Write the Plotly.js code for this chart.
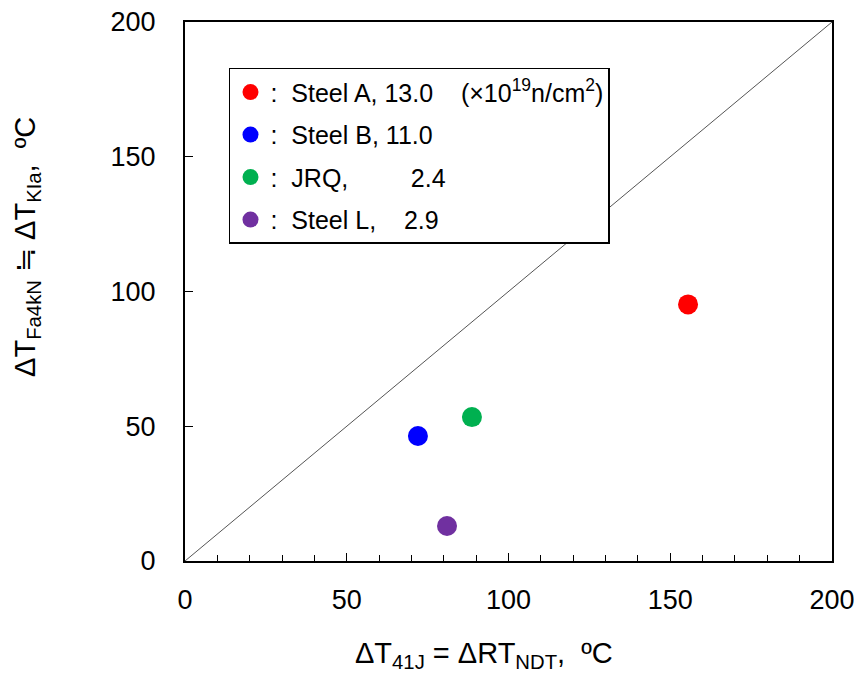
<!DOCTYPE html>
<html>
<head>
<meta charset="utf-8">
<script src="https://cdn.plot.ly/plotly-3.0.1.min.js"></script>
<style>html,body{margin:0;padding:0;background:#fff;}</style>
</head>
<body>
<div id="chart" style="width:854px;height:675px;"></div>
<script>
const seriesNames = [
  ":\u00A0\u00A0Steel A, 13.0\u00A0\u00A0\u00A0\u00A0(×10<sup>19</sup>n/cm<sup>2</sup>)",
  ":\u00A0\u00A0Steel B, 11.0",
  ":\u00A0\u00A0JRQ,\u00A0\u00A0\u00A0\u00A0\u00A0\u00A0\u00A0\u00A0\u00A02.4",
  ":\u00A0\u00A0Steel L,\u00A0\u00A0\u00A0\u00A02.9"
];
const seriesColors = ["#ff0000", "#0000ff", "#00b050", "#7030a0"];
const dT41J = [155.5, 72.0, 88.7, 81.0];
const dTFa4kN = [95.2, 46.4, 53.4, 13.0];
const diagX = [0, 200];
const diagY = [0, 200];
const tickVals = [0, 50, 100, 150, 200];
const xTitle = "ΔT<sub>41J</sub> = ΔRT<sub>NDT</sub>,\u00A0 ºC";
const yTitle = "ΔT<sub>Fa4kN</sub> ≒ ΔT<sub>KIa</sub>,\u00A0 ºC";

const font = "Liberation Sans, Arial, sans-serif";
const traces = [{
  x: diagX, y: diagY, mode: "lines", showlegend: false,
  line: {color: "#555555", width: 1}, hoverinfo: "skip"
}];
for (let i = 0; i < seriesNames.length; i++) {
  traces.push({
    x: [dT41J[i]], y: [dTFa4kN[i]], mode: "markers", name: seriesNames[i],
    legendgroup: "g" + i,
    marker: {color: seriesColors[i], size: 20, line: {width: 0}}
  });
}

const layout = {
  width: 854, height: 675,
  margin: {l: 185, r: 22, t: 22, b: 114},
  paper_bgcolor: "#fff", plot_bgcolor: "#fff",
  font: {family: font, color: "#000", size: 26},
  showlegend: true,
  legend: {
    x: 0.068, y: 0.915, xanchor: "left", yanchor: "top",
    bordercolor: "#000", borderwidth: 1.5, bgcolor: "#fff",
    font: {family: font, size: 25, color: "#000"},
    tracegroupgap: 7, itemwidth: 30,
    traceorder: "grouped"
  },
  xaxis: {
    range: [0, 200], tickvals: tickVals,
    ticks: "inside", ticklen: 8, tickwidth: 1, tickcolor: "#000",
    minor: {dtick: 10, ticks: "inside", ticklen: 6, tickcolor: "#000", tickwidth: 1},
    showgrid: false, zeroline: false,
    showline: true, linecolor: "#000", linewidth: 2, mirror: true,
    tickfont: {size: 27}, ticklabelstandoff: 14, ticklabeloverflow: "allow"
  },
  yaxis: {
    range: [0, 200], tickvals: tickVals,
    ticks: "inside", ticklen: 8, tickwidth: 1, tickcolor: "#000",
    showgrid: false, zeroline: false,
    showline: true, linecolor: "#000", linewidth: 2, mirror: true,
    tickfont: {size: 27}, ticklabelstandoff: 22, ticklabeloverflow: "allow"
  },
  annotations: [
    {text: xTitle, xref: "paper", yref: "paper", x: 0.462, y: -0.174,
     xanchor: "center", yanchor: "middle", showarrow: false, font: {size: 29}},
    {text: yTitle, xref: "paper", yref: "paper", x: -0.244, y: 0.583,
     xanchor: "center", yanchor: "middle", showarrow: false, textangle: -90, font: {size: 29}}
  ]
};
Plotly.newPlot("chart", traces, layout, {displayModeBar: false, staticPlot: true});
</script>
</body>
</html>
